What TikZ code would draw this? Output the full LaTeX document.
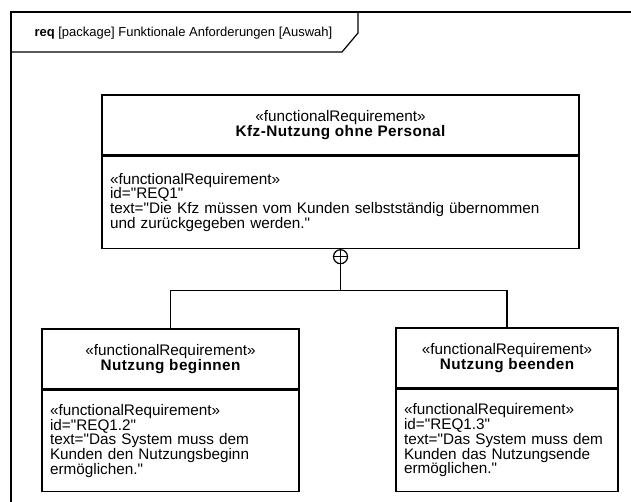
\documentclass[tikz,border=0pt]{standalone}
\usepackage{fontspec}
\setmainfont{Liberation Sans}[Ligatures=TeXOff]
\newfontfamily\titlefont{Liberation Sans}[LetterSpace=3, Ligatures=TeXOff]
\usetikzlibrary{positioning}

\begin{document}
\begin{tikzpicture}[
  x=1pt, y=-1pt,
  every node/.style={font=\fontsize{15.3}{14.8}\selectfont},
  reqhead/.style={draw, line width=1.4pt, inner sep=0pt, align=center},
  reqbody/.style={draw, line width=1.4pt, inner xsep=8pt, inner ysep=0pt, align=left},
  link/.style={line width=1.2pt},
  frame/.style={line width=1.2pt}]

\useasboundingbox (0,0) rectangle (631,502);

% Diagram frame with its name tab
\draw[frame] (11,510) -- (11,12) -- (640,12);
\draw[frame] (11,52) -- (342,52) -- (358,33) -- (358,12);
\node[anchor=west, font=\fontsize{13}{14}\selectfont] (frameName) at (31,33.5)
  {\textbf{req} [package] Funktionale Anforderungen [Auswah]};

% Top requirement
\node[reqhead, minimum width=477, minimum height=60] (kfzHead) at (340.5,125)
  {«functionalRequirement»\\{\titlefont\bfseries Kfz-Nutzung ohne Personal}};
\node[reqbody, text width=461, minimum height=92, below=0pt of kfzHead] (kfzBody)
  {«functionalRequirement»\\id="REQ1"\\text="Die Kfz müssen vom Kunden selbstständig übernommen\\und zurückgegeben werden."};

% Sub requirements
\node[reqhead, minimum width=257, minimum height=60] (beginHead) at (170.5,359)
  {«functionalRequirement»\\{\titlefont\bfseries Nutzung beginnen}};
\node[reqbody, text width=241, minimum height=101, below=0pt of beginHead] (beginBody)
  {«functionalRequirement»\\id="REQ1.2"\\text="Das System muss dem\\Kunden den Nutzungsbeginn\\ermöglichen."};

\node[reqhead, minimum width=222, minimum height=60] (endHead) at (507,358)
  {«functionalRequirement»\\{\titlefont\bfseries Nutzung beenden}};
\node[reqbody, text width=206, minimum height=102, below=0pt of endHead] (endBody)
  {«functionalRequirement»\\id="REQ1.3"\\text="Das System muss dem\\Kunden das Nutzungsende\\ermöglichen."};

% Containment
\node[circle, draw, link, minimum size=14, inner sep=0pt, below=0pt of kfzBody] (contain) {};
\draw[link] (contain.north) -- (contain.south);
\draw[link] (contain.west) -- (contain.east);
\coordinate[below=26pt of contain.south] (fork);
\draw[link] (contain.south) -- (fork);
\draw[link] (beginHead.north) |- (fork) -| (endHead.north);

\end{tikzpicture}
\end{document}
